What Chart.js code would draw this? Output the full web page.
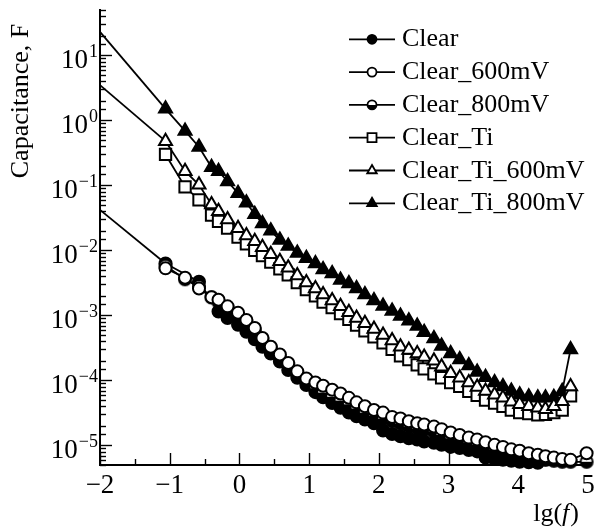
<!DOCTYPE html>
<html>
<head>
<meta charset="utf-8">
<script src="https://cdn.jsdelivr.net/npm/chart.js@4.4.0/dist/chart.umd.min.js"></script>
<style>
  html, body { margin: 0; padding: 0; background: #fff; }
  canvas { display: block; }
</style>
</head>
<body>
<canvas id="chart" width="598" height="528"></canvas>
<script>
// log10 of frequency, shared by all series
const lgF = [
  -1.06, -0.78, -0.58, -0.40, -0.30, -0.17, -0.02, 0.10, 0.22, 0.33,
  0.45, 0.58, 0.70, 0.83, 0.96, 1.09, 1.20, 1.33, 1.45, 1.57,
  1.68, 1.80, 1.93, 2.06, 2.19, 2.31, 2.43, 2.55, 2.65, 2.79,
  2.90, 3.03, 3.16, 3.29, 3.41, 3.53, 3.66, 3.78, 3.90, 4.02,
  4.15, 4.28, 4.39, 4.51, 4.63, 4.75, 4.98
];

const seriesNames = ['Clear', 'Clear_600mV', 'Clear_800mV', 'Clear_Ti', 'Clear_Ti_600mV', 'Clear_Ti_800mV'];

// capacitance, F
const clear = [
  0.0063, null, 0.0033, null, 0.00115, 9.1e-4, 7.2e-4, 5.6e-4, 4.3e-4, 3.3e-4,
  2.6e-4, 1.95e-4, 1.45e-4, 1.10e-4, 8.5e-5, 6.6e-5, 5.5e-5, 4.5e-5, 3.8e-5, 3.2e-5,
  2.8e-5, 2.5e-5, 2.2e-5, 1.7e-5, 1.5e-5, 1.38e-5, 1.29e-5, 1.23e-5, 1.15e-5, 1.10e-5,
  1.02e-5, 9.5e-6, 9.1e-6, 8.5e-6, 8.1e-6, 6.5e-6, 6.2e-6, 6.0e-6, 5.8e-6, 5.6e-6,
  5.5e-6, 5.4e-6, null, null, null, null, null
];
const clear600 = [
  0.0053, 0.0038, 0.0026, 0.0019, 0.00174, 0.00138, 0.0011, 8.5e-4, 6.4e-4, 4.5e-4,
  3.3e-4, 2.5e-4, 1.86e-4, 1.38e-4, 1.07e-4, 9.3e-5, 8.3e-5, 7.2e-5, 6.3e-5, 5.4e-5,
  4.6e-5, 4.0e-5, 3.5e-5, 3.2e-5, 2.75e-5, 2.6e-5, 2.35e-5, 2.2e-5, 2.1e-5, 1.95e-5,
  1.78e-5, 1.58e-5, 1.45e-5, 1.32e-5, 1.23e-5, 1.12e-5, 1.02e-5, 9.5e-6, 8.7e-6, 8.3e-6,
  7.6e-6, 7.2e-6, 6.8e-6, 6.5e-6, 6.2e-6, 6.0e-6, 7.6e-6
];
const clear800 = [
  0.0058, 0.0036, 0.0028, 0.0019, 0.0016, 0.0013, 0.0010, 7.8e-4, 5.9e-4, 4.3e-4,
  3.2e-4, 2.3e-4, 1.74e-4, 1.29e-4, 9.8e-5, 7.6e-5, 6.5e-5, 5.6e-5, 4.9e-5, 4.3e-5,
  3.7e-5, 3.2e-5, 2.9e-5, 2.6e-5, 2.35e-5, 2.15e-5, 1.95e-5, 1.82e-5, 1.74e-5, 1.62e-5,
  1.45e-5, 1.29e-5, 1.23e-5, 1.10e-5, 1.02e-5, 9.5e-6, 8.7e-6, 8.3e-6, 7.6e-6, 7.2e-6,
  6.8e-6, 6.5e-6, 6.0e-6, 5.8e-6, 5.6e-6, 5.6e-6, 5.6e-6
];
const clearTi = [
  0.30, 0.095, 0.060, 0.035, 0.028, 0.022, 0.016, 0.0126, 0.0100, 0.0083,
  0.0066, 0.0052, 0.0042, 0.0032, 0.0025, 0.0020, 0.0016, 0.00132, 0.00107, 8.7e-4,
  7.1e-4, 5.8e-4, 4.7e-4, 3.8e-4, 3.0e-4, 2.4e-4, 2.1e-4, 1.74e-4, 1.51e-4, 1.26e-4,
  1.10e-4, 9.3e-5, 8.1e-5, 6.8e-5, 5.9e-5, 5.0e-5, 4.5e-5, 4.0e-5, 3.5e-5, 3.2e-5,
  3.1e-5, 2.95e-5, 3.0e-5, 3.2e-5, 3.5e-5, 5.8e-5, null
];
const clearTi600 = [
  0.48, 0.166, 0.102, 0.051, 0.040, 0.030, 0.022, 0.017, 0.0138, 0.0112,
  0.0087, 0.0068, 0.0054, 0.0041, 0.0032, 0.0026, 0.0021, 0.0017, 0.00138, 0.00112,
  9.1e-4, 7.6e-4, 6.2e-4, 5.0e-4, 4.1e-4, 3.3e-4, 2.95e-4, 2.6e-4, 2.3e-4, 2.0e-4,
  1.62e-4, 1.29e-4, 1.10e-4, 9.3e-5, 7.9e-5, 6.9e-5, 6.0e-5, 5.4e-5, 4.7e-5, 4.3e-5,
  4.0e-5, 3.8e-5, 3.6e-5, 4.0e-5, 4.8e-5, 8.1e-5, null
];
const clearTi800 = [
  1.51, 0.69, 0.39, 0.19, 0.166, 0.115, 0.076, 0.054, 0.036, 0.026,
  0.020, 0.0145, 0.0117, 0.0091, 0.0076, 0.0063, 0.0051, 0.0044, 0.0035, 0.0031,
  0.0026, 0.0021, 0.0017, 0.0014, 0.00117, 9.8e-4, 8.3e-4, 6.9e-4, 5.5e-4, 4.4e-4,
  3.4e-4, 2.6e-4, 2.1e-4, 1.7e-4, 1.35e-4, 1.12e-4, 9.3e-5, 8.1e-5, 6.9e-5, 6.0e-5,
  5.6e-5, 5.4e-5, 5.4e-5, 5.5e-5, 6.8e-5, 3.0e-4, null
];

// straight extrapolated lines drawn from lg(f) = -2 to the first measured point
const extrapX = -2;
const extrapClear = 0.042;
const extrapTi600 = 3.5;
const extrapTi800 = 23;

// axis ranges and labels
const xMin = -2, xMax = 5;
const yMin = 5e-6, yMax = 50;
const xLabels = [-2, -1, 0, 1, 2, 3, 4, 5];

const FONT = "'Liberation Serif', 'Times New Roman', serif";

// half filled circle (bottom half black) for Clear_800mV
function halfCircle(r, lw) {
  const c = document.createElement('canvas');
  const s = Math.ceil(2 * r + lw + 2);
  c.width = s; c.height = s;
  const g = c.getContext('2d');
  const m = s / 2;
  g.beginPath(); g.arc(m, m, r, 0, Math.PI * 2); g.fillStyle = '#fff'; g.fill();
  g.beginPath(); g.arc(m, m, r, 0, Math.PI); g.closePath(); g.fillStyle = '#000'; g.fill();
  g.beginPath(); g.arc(m, m, r, 0, Math.PI * 2); g.lineWidth = lw; g.strokeStyle = '#000'; g.stroke();
  return c;
}

function pts(vals) {
  return lgF.map((x, i) => ({ x: x, y: vals[i] }));
}
function firstPt(vals) {
  const i = vals.findIndex(v => v !== null);
  return { x: lgF[i], y: vals[i] };
}

const base = {
  borderColor: '#000',
  borderWidth: 1.8,
  pointBorderColor: '#000',
  pointBorderWidth: 2,
  pointHoverRadius: 0,
  spanGaps: true,
  clip: false,
  tension: 0
};

const datasets = [
  { ...base, label: seriesNames[0], data: pts(clear), pointStyle: 'circle', pointRadius: 6, pointBackgroundColor: '#000', order: 3, mark: 'circleFilled' },
  { ...base, label: seriesNames[1], data: pts(clear600), pointStyle: 'circle', pointRadius: 6, pointBackgroundColor: '#fff', order: 1, mark: 'circleOpen' },
  { ...base, label: seriesNames[2], data: pts(clear800), pointStyle: halfCircle(6, 2), pointRadius: 6, order: 2, mark: 'circleHalf' },
  { ...base, label: seriesNames[3], data: pts(clearTi), pointStyle: 'rect', pointRadius: 8, pointBackgroundColor: '#fff', order: 5, mark: 'rect' },
  { ...base, label: seriesNames[4], data: pts(clearTi600), pointStyle: 'triangle', pointRadius: 7.5, pointBackgroundColor: '#fff', order: 4, mark: 'triangleOpen' },
  { ...base, label: seriesNames[5], data: pts(clearTi800), pointStyle: 'triangle', pointRadius: 7.5, pointBackgroundColor: '#000', order: 6, mark: 'triangleFilled' },
  { ...base, label: 'fit', fit: true, data: [{ x: extrapX, y: extrapClear }, firstPt(clear)], pointRadius: 0, order: 7 },
  { ...base, label: 'fit', fit: true, data: [{ x: extrapX, y: extrapTi600 }, firstPt(clearTi600)], pointRadius: 0, order: 7 },
  { ...base, label: 'fit', fit: true, data: [{ x: extrapX, y: extrapTi800 }, firstPt(clearTi800)], pointRadius: 0, order: 7 }
];

function isDecade(v) {
  const l = Math.log10(v);
  return Math.abs(l - Math.round(l)) < 1e-9;
}
function minus(n) {
  return n < 0 ? '\u2212' + Math.abs(n) : String(n);
}

function legendMark(ctx, mark, x, y) {
  ctx.save();
  ctx.lineWidth = 1.8;
  ctx.strokeStyle = '#000';
  ctx.beginPath();
  if (mark.startsWith('circle')) {
    const r = 4.5;
    ctx.arc(x, y, r, 0, Math.PI * 2);
    ctx.fillStyle = mark === 'circleFilled' ? '#000' : '#fff';
    ctx.fill();
    if (mark === 'circleHalf') {
      ctx.beginPath(); ctx.arc(x, y, r, 0, Math.PI); ctx.closePath();
      ctx.fillStyle = '#000'; ctx.fill();
      ctx.beginPath(); ctx.arc(x, y, r, 0, Math.PI * 2);
    }
    ctx.stroke();
  } else if (mark === 'rect') {
    const h = 4.5;
    ctx.rect(x - h, y - h, 2 * h, 2 * h);
    ctx.fillStyle = '#fff'; ctx.fill(); ctx.stroke();
  } else {
    const r = 5.5;
    ctx.moveTo(x, y - r);
    ctx.lineTo(x + r * 0.866, y + r / 2);
    ctx.lineTo(x - r * 0.866, y + r / 2);
    ctx.closePath();
    ctx.fillStyle = mark === 'triangleFilled' ? '#000' : '#fff';
    ctx.fill(); ctx.stroke();
  }
  ctx.restore();
}

const decor = {
  id: 'decor',
  beforeDatasetsDraw(chart) {
    const { ctx, chartArea: a, scales: { x, y } } = chart;
    ctx.save();
    ctx.strokeStyle = '#000';
    ctx.lineWidth = 1.4;
    y.ticks.forEach(t => {
      const py = Math.round(y.getPixelForValue(t.value)) + 0.5;
      const len = isDecade(t.value) ? 12 : 6;
      ctx.beginPath(); ctx.moveTo(a.left, py); ctx.lineTo(a.left + len, py); ctx.stroke();
    });
    x.ticks.forEach(t => {
      const px = Math.round(x.getPixelForValue(t.value)) + 0.5;
      const len = Number.isInteger(t.value) ? 12 : 6;
      ctx.beginPath(); ctx.moveTo(px, a.bottom); ctx.lineTo(px, a.bottom - len); ctx.stroke();
    });
    ctx.restore();
  },
  afterDraw(chart) {
    const { ctx, chartArea: a, scales: { x, y } } = chart;
    ctx.save();
    ctx.fillStyle = '#000';
    ctx.textBaseline = 'alphabetic';

    // y tick labels 10^n
    ctx.textAlign = 'right';
    y.ticks.filter(t => isDecade(t.value)).forEach(t => {
      const py = y.getPixelForValue(t.value);
      const e = minus(Math.round(Math.log10(t.value)));
      ctx.font = '18px ' + FONT;
      const ew = ctx.measureText(e).width;
      ctx.fillText(e, a.left - 2, py + 2);
      ctx.font = '27px ' + FONT;
      ctx.fillText('10', a.left - 3 - ew, py + 13);
    });

    // x tick labels
    ctx.textAlign = 'center';
    ctx.font = '27px ' + FONT;
    xLabels.forEach(v => {
      ctx.fillText(minus(v), x.getPixelForValue(v), a.bottom + 28);
    });

    // x title lg(f)
    ctx.textAlign = 'left';
    const parts = [['lg(', ''], ['f', 'italic '], [')', '']];
    let w = 0;
    parts.forEach(p => { ctx.font = p[1] + '26px ' + FONT; w += ctx.measureText(p[0]).width; });
    let tx = 578 - w;
    parts.forEach(p => {
      ctx.font = p[1] + '26px ' + FONT;
      ctx.fillText(p[0], tx, a.bottom + 56);
      tx += ctx.measureText(p[0]).width + (p[0] === 'f' ? 1 : 0);
    });

    // y title
    ctx.save();
    ctx.translate(21, 101);
    ctx.rotate(-Math.PI / 2);
    ctx.textAlign = 'center';
    ctx.textBaseline = 'middle';
    ctx.font = '26px ' + FONT;
    ctx.fillText('Capacitance, F', 0, 0);
    ctx.restore();

    // legend
    const items = chart.data.datasets.filter(d => !d.fit);
    items.forEach((d, i) => {
      const ry = 39.3 + i * 32.8;
      ctx.save();
      ctx.strokeStyle = '#000';
      ctx.lineWidth = 1.8;
      ctx.beginPath(); ctx.moveTo(349, ry); ctx.lineTo(395, ry); ctx.stroke();
      ctx.restore();
      legendMark(ctx, d.mark, 372, ry);
      ctx.textAlign = 'left';
      ctx.font = '26px ' + FONT;
      ctx.fillText(d.label, 402, ry + 7);
    });
    ctx.restore();
  }
};

new Chart(document.getElementById('chart'), {
  type: 'line',
  data: { datasets: datasets },
  options: {
    responsive: false,
    animation: false,
    devicePixelRatio: 1,
    layout: { padding: { left: 100, right: 8, top: 10, bottom: 63 } },
    plugins: { legend: { display: false }, tooltip: { enabled: false } },
    scales: {
      x: {
        type: 'linear',
        min: xMin,
        max: xMax,
        grid: { display: false, drawTicks: false },
        border: { display: true, color: '#000', width: 2 },
        ticks: { display: false, stepSize: 0.5 }
      },
      y: {
        type: 'logarithmic',
        min: yMin,
        max: yMax,
        grid: { display: false, drawTicks: false },
        border: { display: true, color: '#000', width: 2 },
        ticks: { display: false }
      }
    }
  },
  plugins: [decor]
});
</script>
</body>
</html>
